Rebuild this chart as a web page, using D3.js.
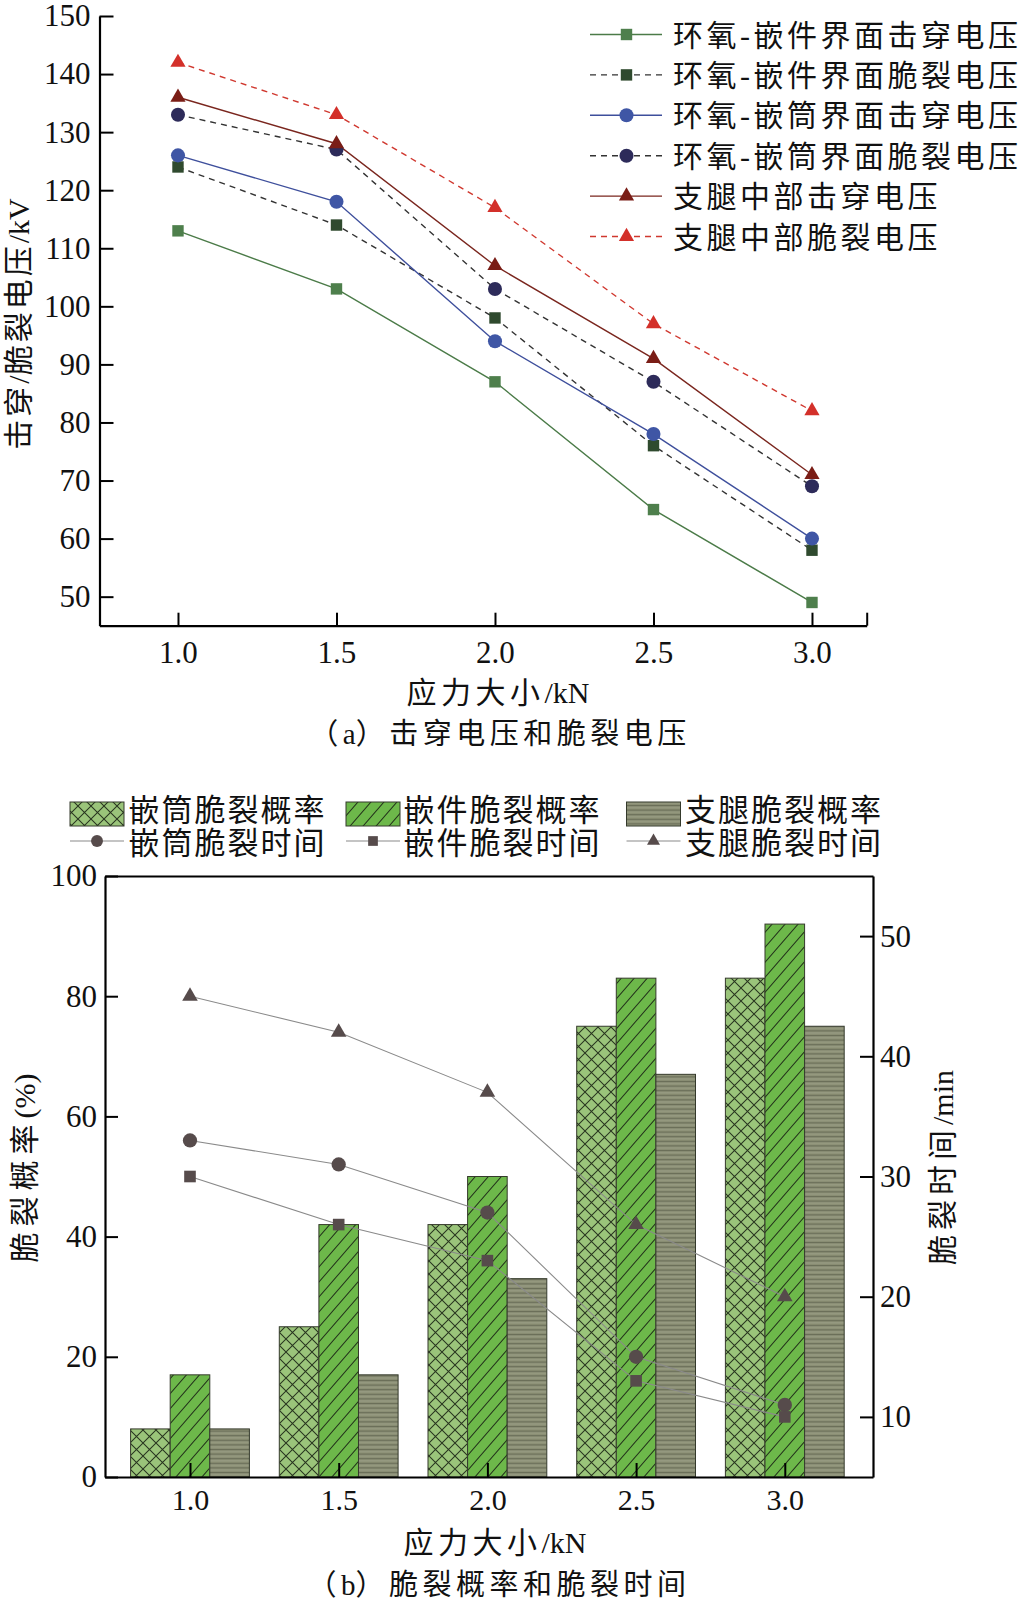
<!DOCTYPE html>
<html><head><meta charset="utf-8">
<script src="https://cdn.jsdelivr.net/npm/d3@7"></script>
<style>
html,body{margin:0;padding:0;background:#fff;}
svg{display:block;}
text{font-family:"Liberation Serif","Noto Sans CJK SC",serif;fill:#111;}
</style></head><body>
<svg id="chart" width="1027" height="1603"></svg>
<script>
// ---------- data ----------
const forceValues = [1.0, 1.5, 2.0, 2.5, 3.0];
const forceLabels = ["1.0", "1.5", "2.0", "2.5", "3.0"];

// panel (a): voltages, kV
const voltageTicks = [50, 60, 70, 80, 90, 100, 110, 120, 130, 140, 150];
const insertBreakdownV = [113, 103, 87, 65, 49];
const insertCrackV     = [124, 114, 98, 76, 58];
const sleeveBreakdownV = [126, 118, 94, 78, 60];
const sleeveCrackV     = [133, 127, 103, 87, 69];
const legBreakdownV    = [136, 128, 107, 91, 71];
const legCrackV        = [142, 133, 117, 97, 82];
const seriesNamesA = ["环氧-嵌件界面击穿电压", "环氧-嵌件界面脆裂电压", "环氧-嵌筒界面击穿电压",
                      "环氧-嵌筒界面脆裂电压", "支腿中部击穿电压", "支腿中部脆裂电压"];

// panel (b): probability %, time min
const probTicks = [0, 20, 40, 60, 80, 100];
const timeTicks = [10, 20, 30, 40, 50];
const sleeveProb = [8, 25, 42, 75, 83];
const insertProb = [17, 42, 50, 83, 92];
const legProb    = [8, 17, 33, 67, 75];
const sleeveTime = [33, 31, 27, 15, 11];
const insertTime = [30, 26, 23, 13, 10];
const legTime    = [45, 42, 37, 26, 20];
const barNamesB  = ["嵌筒脆裂概率", "嵌件脆裂概率", "支腿脆裂概率"];
const lineNamesB = ["嵌筒脆裂时间", "嵌件脆裂时间", "支腿脆裂时间"];

const titlesA = {y: "击穿/脆裂电压/kV", x: "应力大小/kN", caption: "（a）击穿电压和脆裂电压"};
const titlesB = {yl: "脆裂概率(%)", yr: "脆裂时间/min", x: "应力大小/kN", caption: "（b）脆裂概率和脆裂时间"};

// ---------- styles ----------
const stylesA = [
  {values: insertBreakdownV, line: "#4b7b48", fill: "#4e7f4c", dash: null, shape: d3.symbolSquare, size: 130},
  {values: insertCrackV,     line: "#333333", fill: "#2f4a2e", dash: "6,5", shape: d3.symbolSquare, size: 130},
  {values: sleeveBreakdownV, line: "#3e4f9c", fill: "#3f56a5", dash: null, shape: d3.symbolCircle, size: 155},
  {values: sleeveCrackV,     line: "#333333", fill: "#2d2b5a", dash: "6,5", shape: d3.symbolCircle, size: 155},
  {values: legBreakdownV,    line: "#7a261e", fill: "#7a1d16", dash: null, shape: d3.symbolTriangle, size: 100},
  {values: legCrackV,        line: "#d0382f", fill: "#d3302a", dash: "6,5", shape: d3.symbolTriangle, size: 100}
];

const svg = d3.select("#chart");
svg.append("rect").attr("width", 1027).attr("height", 1603).attr("fill", "#fff");
const defs = svg.append("defs");

// letter spacing only on CJK / hyphen runs, Latin runs stay tight
function spaced(textSel, str, ls) {
  const runs = str.match(/[A-Za-z0-9%()\/.]+|[^A-Za-z0-9%()\/.]+/g);
  runs.forEach(r => {
    const latin = /^[A-Za-z0-9%()\/.]+$/.test(r);
    textSel.append("tspan").style("letter-spacing", latin ? "0px" : ls + "px").text(r);
  });
  return textSel;
}

function styleAxis(g, fs) {
  g.select(".domain").attr("stroke", "#000").attr("stroke-width", 2.2);
  g.selectAll(".tick line").attr("stroke", "#000").attr("stroke-width", 2);
  g.selectAll(".tick text").attr("font-size", fs).style("fill", "#111");
}

// =============== panel (a) ===============
const xA = d3.scaleLinear().domain([0.7524, 3.1726]).range([99.5, 866.7]);
const yA = d3.scaleLinear().domain([45, 150]).range([625.7, 16]);
const gA = svg.append("g");

const lineA = d3.line().x((d, i) => xA(forceValues[i])).y(d => yA(d));
stylesA.forEach(s => {
  gA.append("path").attr("d", lineA(s.values)).attr("fill", "none")
    .attr("stroke", s.line).attr("stroke-width", 1.4)
    .attr("stroke-dasharray", s.dash);
});
stylesA.forEach(s => {
  gA.selectAll(null).data(s.values).join("path")
    .attr("transform", (d, i) => `translate(${xA(forceValues[i])},${yA(d)})`)
    .attr("d", d3.symbol().type(s.shape).size(s.size)())
    .attr("fill", s.fill);
});

gA.append("g").attr("transform", `translate(${xA.range()[0]},0)`)
  .call(d3.axisLeft(yA).tickValues(voltageTicks).tickSizeInner(-14).tickSizeOuter(0).tickPadding(9))
  .call(g => styleAxis(g, 31));
const xTicksA = forceValues.concat([xA.domain()[1]]);
gA.append("g").attr("transform", `translate(0,${yA.range()[0]})`)
  .call(d3.axisBottom(xA).tickValues(xTicksA).tickSizeInner(-13).tickSizeOuter(0)
        .tickFormat((d, i) => i < forceLabels.length ? forceLabels[i] : ""))
  .call(g => { styleAxis(g, 31); g.selectAll(".tick text").attr("y", 37).attr("dy", 0); });

// legend (a)
const legA = gA.append("g");
stylesA.forEach((s, i) => {
  const yy = 34.5 + 40.4 * i;
  const r = legA.append("g");
  r.append("line").attr("x1", 590).attr("x2", 662).attr("y1", yy).attr("y2", yy)
    .attr("stroke", s.line).attr("stroke-width", 1.4).attr("stroke-dasharray", s.dash);
  r.append("path").attr("transform", `translate(626.5,${yy})`)
    .attr("d", d3.symbol().type(s.shape).size(s.size)()).attr("fill", s.fill);
  spaced(r.append("text").attr("x", 673).attr("y", yy + 11).attr("font-size", 30), seriesNamesA[i], 3.5);
});

spaced(gA.append("text").attr("transform", "translate(29,324) rotate(-90)").attr("text-anchor", "middle")
  .attr("font-size", 30), titlesA.y, 3);
spaced(gA.append("text").attr("x", 498).attr("y", 702.5).attr("text-anchor", "middle")
  .attr("font-size", 30), titlesA.x, 4.5);
spaced(gA.append("text").attr("x", 500).attr("y", 744).attr("text-anchor", "middle")
  .attr("font-size", 29), titlesA.caption, 4.5);

// =============== panel (b) ===============
const pX = defs.append("pattern").attr("id", "patX").attr("patternUnits", "userSpaceOnUse").attr("width", 13).attr("height", 13);
pX.append("rect").attr("width", 13).attr("height", 13).attr("fill", "#9ac47a");
pX.append("path").attr("d", "M0,0L13,13M13,0L0,13M-1,12L1,14M12,-1L14,1").attr("stroke", "#28351f").attr("stroke-width", 1.05);
const pS = defs.append("pattern").attr("id", "patS").attr("patternUnits", "userSpaceOnUse").attr("width", 13).attr("height", 15);
pS.append("rect").attr("width", 13).attr("height", 15).attr("fill", "#6db84a");
pS.append("path").attr("d", "M0,15L13,0M-1,1.15L1,-1.15M12,16.15L14,13.85").attr("stroke", "#22321a").attr("stroke-width", 1.05);
const pH = defs.append("pattern").attr("id", "patH").attr("patternUnits", "userSpaceOnUse").attr("width", 10).attr("height", 4.6);
pH.append("rect").attr("width", 10).attr("height", 4.6).attr("fill", "#898d73");
pH.append("rect").attr("y", 0).attr("width", 10).attr("height", 1).attr("fill", "#6a6e58");
pH.append("rect").attr("y", 2.3).attr("width", 10).attr("height", 0.8).attr("fill", "#a2a68c");
const barFills = ["url(#patX)", "url(#patS)", "url(#patH)"];
const barData = [sleeveProb, insertProb, legProb];
const timeData = [sleeveTime, insertTime, legTime];
const timeShapes = [{t: d3.symbolCircle, s: 160}, {t: d3.symbolSquare, s: 135}, {t: d3.symbolTriangle, s: 105}];

const xB = d3.scaleLinear().domain([0.7142, 3.2966]).range([105, 873]);
const yL = d3.scaleLinear().domain([0, 100]).range([1477, 876]);
const yR = d3.scaleLinear().domain([5, 55]).range([1477, 876]);
const sub = d3.scaleBand().domain([0, 1, 2]).range([-59.4, 59.4]).padding(0);
const gB = svg.append("g");

barData.forEach((vals, k) => {
  gB.selectAll(null).data(vals).join("rect")
    .attr("x", (d, i) => xB(forceValues[i]) + sub(k))
    .attr("width", sub.bandwidth())
    .attr("y", d => yL(d))
    .attr("height", d => yL(0) - yL(d))
    .attr("fill", barFills[k]).attr("stroke", "#353a2c").attr("stroke-width", 1);
});

const lineB = d3.line().x((d, i) => xB(forceValues[i])).y(d => yR(d));
timeData.forEach(vals => {
  gB.append("path").attr("d", lineB(vals)).attr("fill", "none").attr("stroke", "#8a8a8a").attr("stroke-width", 1.1);
});
timeData.forEach((vals, k) => {
  gB.selectAll(null).data(vals).join("path")
    .attr("transform", (d, i) => `translate(${xB(forceValues[i])},${yR(d)})`)
    .attr("d", d3.symbol().type(timeShapes[k].t).size(timeShapes[k].s)())
    .attr("fill", "#564b4b");
});

gB.append("g").attr("transform", `translate(${xB.range()[0]},0)`)
  .call(d3.axisLeft(yL).tickValues(probTicks).tickSizeInner(-13).tickSizeOuter(0).tickPadding(8))
  .call(g => styleAxis(g, 31));
gB.append("g").attr("transform", `translate(${xB.range()[1]},0)`)
  .call(d3.axisRight(yR).tickValues(timeTicks).tickSizeInner(-13).tickSizeOuter(0).tickPadding(7))
  .call(g => styleAxis(g, 31));
gB.append("g").attr("transform", `translate(0,${yL.range()[0]})`)
  .call(d3.axisBottom(xB).tickValues(forceValues).tickSizeInner(-14).tickSizeOuter(0)
        .tickFormat((d, i) => forceLabels[i]))
  .call(g => { styleAxis(g, 30); g.selectAll(".tick text").attr("y", 32.5).attr("dy", 0); });
gB.append("g").attr("transform", `translate(0,${yL.range()[1]})`)
  .call(d3.axisTop(xB).tickValues([]).tickSizeOuter(0))
  .call(g => styleAxis(g, 30));

// legend (b)
const legX = [70, 346, 626.5];
const legTextX = [128.5, 403.5, 685];
const legB = gB.append("g");
barNamesB.forEach((n, k) => {
  legB.append("rect").attr("x", legX[k]).attr("y", 802).attr("width", 54).attr("height", 24)
    .attr("fill", barFills[k]).attr("stroke", "#353a2c").attr("stroke-width", 1);
  spaced(legB.append("text").attr("x", legTextX[k]).attr("y", 820.5).attr("font-size", 31), n, 2);
  legB.append("line").attr("x1", legX[k]).attr("x2", legX[k] + 54).attr("y1", 841).attr("y2", 841)
    .attr("stroke", "#8a8a8a").attr("stroke-width", 1.1);
  legB.append("path").attr("transform", `translate(${legX[k] + 27},841)`)
    .attr("d", d3.symbol().type(timeShapes[k].t).size(timeShapes[k].s * 0.7)()).attr("fill", "#564b4b");
  spaced(legB.append("text").attr("x", legTextX[k]).attr("y", 854).attr("font-size", 31), lineNamesB[k], 2);
});

spaced(gB.append("text").attr("transform", "translate(35,1168) rotate(-90)").attr("text-anchor", "middle")
  .attr("font-size", 30), titlesB.yl, 6);
spaced(gB.append("text").attr("transform", "translate(953,1167.5) rotate(-90)").attr("text-anchor", "middle")
  .attr("font-size", 30), titlesB.yr, 5);
spaced(gB.append("text").attr("x", 495).attr("y", 1552.5).attr("text-anchor", "middle")
  .attr("font-size", 30), titlesB.x, 4.5);
spaced(gB.append("text").attr("x", 499).attr("y", 1594.5).attr("text-anchor", "middle")
  .attr("font-size", 29), titlesB.caption, 4.5);
</script>
</body></html>
